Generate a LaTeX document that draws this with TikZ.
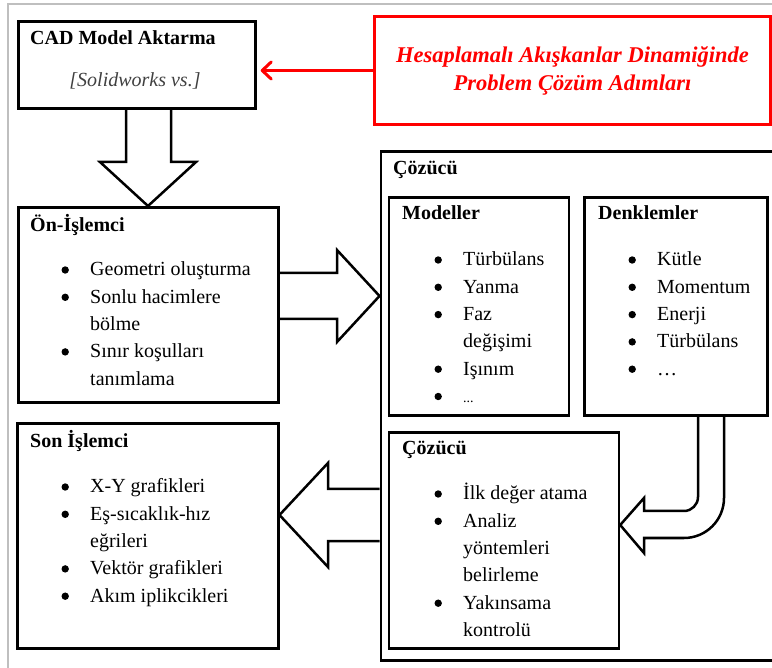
\documentclass[tikz,border=0pt]{standalone}
\usepackage{fontspec}
\setmainfont{Liberation Serif}
\usetikzlibrary{calc,arrows.meta}
\newcommand\mybul{\tikz[baseline={(0pt,-6pt)}]\fill[black] (0pt,0pt) circle[radius=3.7pt];}
\newcommand\bitem{\makebox[25pt][l]{\makebox[0pt]{\mybul}}}
\newcommand\nitem{\hspace*{25pt}}
\begin{document}
\begin{tikzpicture}[x=1pt,y=-1pt,
  box/.style={draw=black, line width=2.7pt, rectangle, inner sep=0pt, anchor=north west},
  redbox/.style={draw=red, line width=3pt, rectangle, inner sep=0pt, anchor=north west, text=red, align=center,
    font=\fontsize{22.5}{28}\selectfont\bfseries\itshape},
  ttl/.style={font=\fontsize{20}{24}\selectfont\bfseries, inner sep=0pt, anchor=base west},
  sub/.style={font=\fontsize{20}{24}\selectfont\itshape, text=black!75, inner sep=0pt, anchor=base},
  lst/.style={font=\fontsize{20}{27.3}\selectfont, inner sep=0pt, anchor=base west},
  blockarrow/.style={draw=black, line width=2.5pt, line join=miter},
  redarrow/.style={draw=red, line width=3pt, shorten >=4pt, line cap=round,
    -{Straight Barb[length=9pt,width=17pt,line width=3pt,round]}}
]
\useasboundingbox (0,0) rectangle (772,668);
\clip (0,0) rectangle (772,668);

% light grey frame
\draw[black!25, line width=2pt] (8,668) -- (8,4) -- (772,4);

% boxes
\node[box, line width=3.2pt, minimum width=237pt, minimum height=87pt] (cad) at (16.5,20) {};
\node[redbox, minimum width=396pt, minimum height=108pt] (title) at (373,15)
  {\raisebox{-4pt}{\begin{tabular}{@{}c@{}}Hesaplamalı Akışkanlar Dinamiğinde\\Problem Çözüm Adımları\end{tabular}}};
\node[box, line width=3pt, minimum width=260pt, minimum height=195.5pt] (pre) at (16.5,206) {};
\node[box, line width=3pt, minimum width=260.5pt, minimum height=224.5pt] (post) at (16,422) {};
\node[box, minimum width=430pt, minimum height=509pt] (solver) at (379.5,150) {};
\node[box, minimum width=180pt, minimum height=218.5pt] (models) at (387.5,196) {};
\node[box, minimum width=183pt, minimum height=218.5pt] (eqs) at (583,196) {};
\node[box, minimum width=230pt, minimum height=215.5pt] (isolver) at (387.5,431.5) {};

% arrows
\draw[redarrow] (title.west) -- (title.west -| cad.east);
\draw[blockarrow] (126,0 |- cad.south) -- (126,162) -- (100,162) -- (148,0 |- pre.north)
  -- (196,162) -- (171,162) -- (171,0 |- cad.south);
\draw[blockarrow] (pre.east |- 0,273) -- (337,273) -- (337,250) -- (solver.west |- 0,296)
  -- (337,342) -- (337,319) -- (pre.east |- 0,319);
\draw[blockarrow] (solver.west |- 0,489) -- (328,489) -- (328,463) -- (post.east |- 0,515)
  -- (328,567) -- (328,541) -- (solver.west |- 0,541);
\draw[blockarrow] (698,0 |- eqs.south) -- (698,497) .. controls (698,504.7) and (691.7,511) .. (684,511)
  -- (644,511) -- (644,498) -- (isolver.east |- 0,525) -- (644,553) -- (644,538) -- (684,538)
  .. controls (706.1,538) and (724,520.1) .. (724,498) -- (724,0 |- eqs.south);

% texts
\node[ttl] (cadtitle) at (30,45) {CAD Model Aktarma};
\node[sub] (cadsub) at (135,87) {[Solidworks vs.]};

\node[ttl] (pretitle) at (30,232) {Ön-İşlemci};
\node[lst] (prelist) at (65,276) {\begin{tabular}[t]{@{}l@{}}
\bitem Geometri oluşturma\\ \bitem Sonlu hacimlere\\ \nitem bölme\\ \bitem Sınır koşulları\\ \nitem tanımlama\end{tabular}};

\node[ttl] (posttitle) at (30,448) {Son İşlemci};
\node[lst] (postlist) at (65,493) {\begin{tabular}[t]{@{}l@{}}
\bitem X-Y grafikleri\\ \bitem Eş-sıcaklık-hız\\ \nitem eğrileri\\ \bitem Vektör grafikleri\\ \bitem Akım iplikcikleri\end{tabular}};

\node[ttl] (solvertitle) at (393,175) {Çözücü};

\node[ttl] (modelstitle) at (402,220) {Modeller};
\node[lst] (modelslist) at (438,266) {\begin{tabular}[t]{@{}l@{}}
\bitem Türbülans\\ \bitem Yanma\\ \bitem Faz\\ \nitem değişimi\\ \bitem Işınım\\ \bitem {\fontsize{14}{16}\selectfont ...}\end{tabular}};

\node[ttl] (eqstitle) at (598,220) {Denklemler};
\node[lst] (eqslist) at (632,266) {\begin{tabular}[t]{@{}l@{}}
\bitem Kütle\\ \bitem Momentum\\ \bitem Enerji\\ \bitem Türbülans\\ \bitem …\end{tabular}};

\node[ttl] (isolvertitle) at (402,455) {Çözücü};
\node[lst] (isolverlist) at (438,500) {\begin{tabular}[t]{@{}l@{}}
\bitem İlk değer atama\\ \bitem Analiz\\ \nitem yöntemleri\\ \nitem belirleme\\ \bitem Yakınsama\\ \nitem kontrolü\end{tabular}};
\end{tikzpicture}
\end{document}
